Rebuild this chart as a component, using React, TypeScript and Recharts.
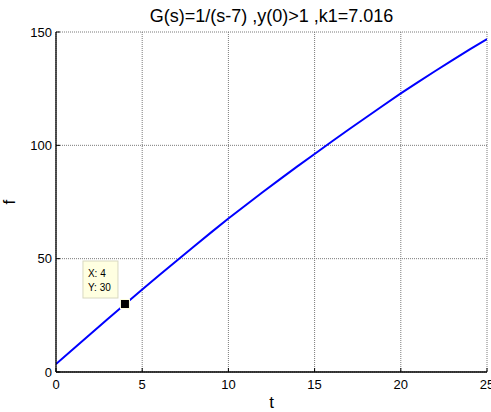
import React from "react";
import {
  LineChart,
  Line,
  XAxis,
  YAxis,
  CartesianGrid,
  ReferenceDot,
} from "recharts";

const tValues = [
  0, 1, 2, 3, 4, 5, 6, 7, 8, 9, 10, 11, 12, 13, 14, 15, 16, 17, 18, 19, 20,
  21, 22, 23, 24, 25,
];
const fValues = [
  3.5, 10.2, 16.8, 23.4, 29.9, 36.4, 42.8, 49.1, 55.4, 61.6, 67.7, 73.6,
  79.4, 85.1, 90.7, 96.2, 101.7, 107.1, 112.4, 117.7, 122.9, 127.9, 132.8,
  137.6, 142.3, 146.9,
];
const xTicks = [0, 5, 10, 15, 20, 25];
const yTicks = [0, 50, 100, 150];
const tipX = 4;
const tipY = 30;

const data = tValues.map((t, i) => ({ t, f: fValues[i] }));

const FONT = "'Liberation Sans', Arial, sans-serif";

const BottomTick = (props: any) => {
  const { x, y, payload } = props;
  return (
    <g>
      <line x1={x} y1={y} x2={x} y2={y - 4} stroke="#000" />
      <text
        x={x}
        y={y + 16.5}
        textAnchor="middle"
        fontSize={13}
        fontFamily={FONT}
        fill="#000"
      >
        {payload.value}
      </text>
    </g>
  );
};

const TopTick = (props: any) => {
  const { x, y } = props;
  return <line x1={x} y1={y} x2={x} y2={y + 4} stroke="#000" />;
};

const LeftTick = (props: any) => {
  const { x, y, payload } = props;
  return (
    <g>
      <line x1={x} y1={y} x2={x + 4} y2={y} stroke="#000" />
      <text
        x={x - 4}
        y={y + 4.5}
        textAnchor="end"
        fontSize={13}
        fontFamily={FONT}
        fill="#000"
      >
        {payload.value}
      </text>
    </g>
  );
};

const RightTick = (props: any) => {
  const { x, y } = props;
  return <line x1={x} y1={y} x2={x - 4} y2={y} stroke="#000" />;
};

const YLabel = (props: any) => {
  const { viewBox } = props;
  const cx = viewBox.x + 15;
  const cy = viewBox.y + viewBox.height / 2;
  return (
    <text
      x={cx}
      y={cy}
      transform={`rotate(-90 ${cx} ${cy})`}
      textAnchor="middle"
      fontSize={17}
      fontFamily={FONT}
      fill="#000"
    >
      f
    </text>
  );
};

const DataTip = (props: any) => {
  const { cx, cy } = props;
  if (cx == null || cy == null) return null;
  return (
    <g>
      <rect
        x={cx - 42}
        y={cy - 43}
        width={35}
        height={37}
        fill="#ffffe1"
        stroke="#d8d8c0"
      />
      <text x={cx - 37} y={cy - 27} fontSize={10} fontFamily={FONT} fill="#000">
        X: {tipX}
      </text>
      <text x={cx - 37} y={cy - 13} fontSize={10} fontFamily={FONT} fill="#000">
        Y: {tipY}
      </text>
      <rect
        x={cx - 4.5}
        y={cy - 4.5}
        width={9}
        height={9}
        fill="#000"
        stroke="#ffffe1"
      />
    </g>
  );
};

export default function App() {
  return (
    <div
      style={{
        position: "absolute",
        left: 0,
        top: 0,
        width: 491,
        height: 412,
        background: "#fff",
      }}
    >
      <div
        style={{
          position: "absolute",
          left: 56,
          width: 431,
          top: 5,
          textAlign: "center",
          fontFamily: FONT,
          fontSize: 18,
          lineHeight: "22px",
          color: "#000",
        }}
      >
        G(s)=1/(s-7) ,y(0)&gt;1 ,k1=7.016
      </div>
      <LineChart
        width={491}
        height={412}
        data={data}
        margin={{ top: 32, right: 4, bottom: 0, left: 0 }}
      >
        <CartesianGrid
          stroke="#7a7a7a"
          strokeDasharray="1 1"
          verticalValues={xTicks}
          horizontalValues={yTicks}
        />
        <XAxis
          dataKey="t"
          type="number"
          domain={[0, 25]}
          ticks={xTicks}
          height={40}
          tickSize={0}
          tickMargin={0}
          tickLine={false}
          tick={<BottomTick />}
          axisLine={{ stroke: "#000", strokeWidth: 1.3 }}
          interval={0}
          allowDataOverflow
          label={{
            value: "t",
            position: "insideBottom",
            offset: 4,
            fontSize: 17,
            fontFamily: FONT,
            fill: "#000",
          }}
        />
        <XAxis
          xAxisId="top"
          orientation="top"
          dataKey="t"
          type="number"
          domain={[0, 25]}
          ticks={xTicks}
          height={0}
          tickSize={0}
          tickMargin={0}
          tickLine={false}
          tick={<TopTick />}
          axisLine={{ stroke: "#000", strokeWidth: 1.3 }}
          interval={0}
        />
        <YAxis
          type="number"
          domain={[0, 150]}
          ticks={yTicks}
          width={56}
          tickSize={0}
          tickMargin={0}
          tickLine={false}
          tick={<LeftTick />}
          axisLine={{ stroke: "#000", strokeWidth: 1.3 }}
          interval={0}
          allowDataOverflow
          label={<YLabel />}
        />
        <YAxis
          yAxisId="right"
          orientation="right"
          type="number"
          domain={[0, 150]}
          ticks={yTicks}
          width={0}
          tickSize={0}
          tickMargin={0}
          tickLine={false}
          tick={<RightTick />}
          axisLine={{ stroke: "#000", strokeWidth: 1.3 }}
          interval={0}
        />
        <Line
          type="linear"
          dataKey="f"
          stroke="#0000ff"
          strokeWidth={2}
          dot={false}
          activeDot={false}
          isAnimationActive={false}
        />
        <ReferenceDot
          x={tipX}
          y={tipY}
          r={0}
          ifOverflow="visible"
          shape={(p: any) => <DataTip {...p} />}
        />
      </LineChart>
    </div>
  );
}
